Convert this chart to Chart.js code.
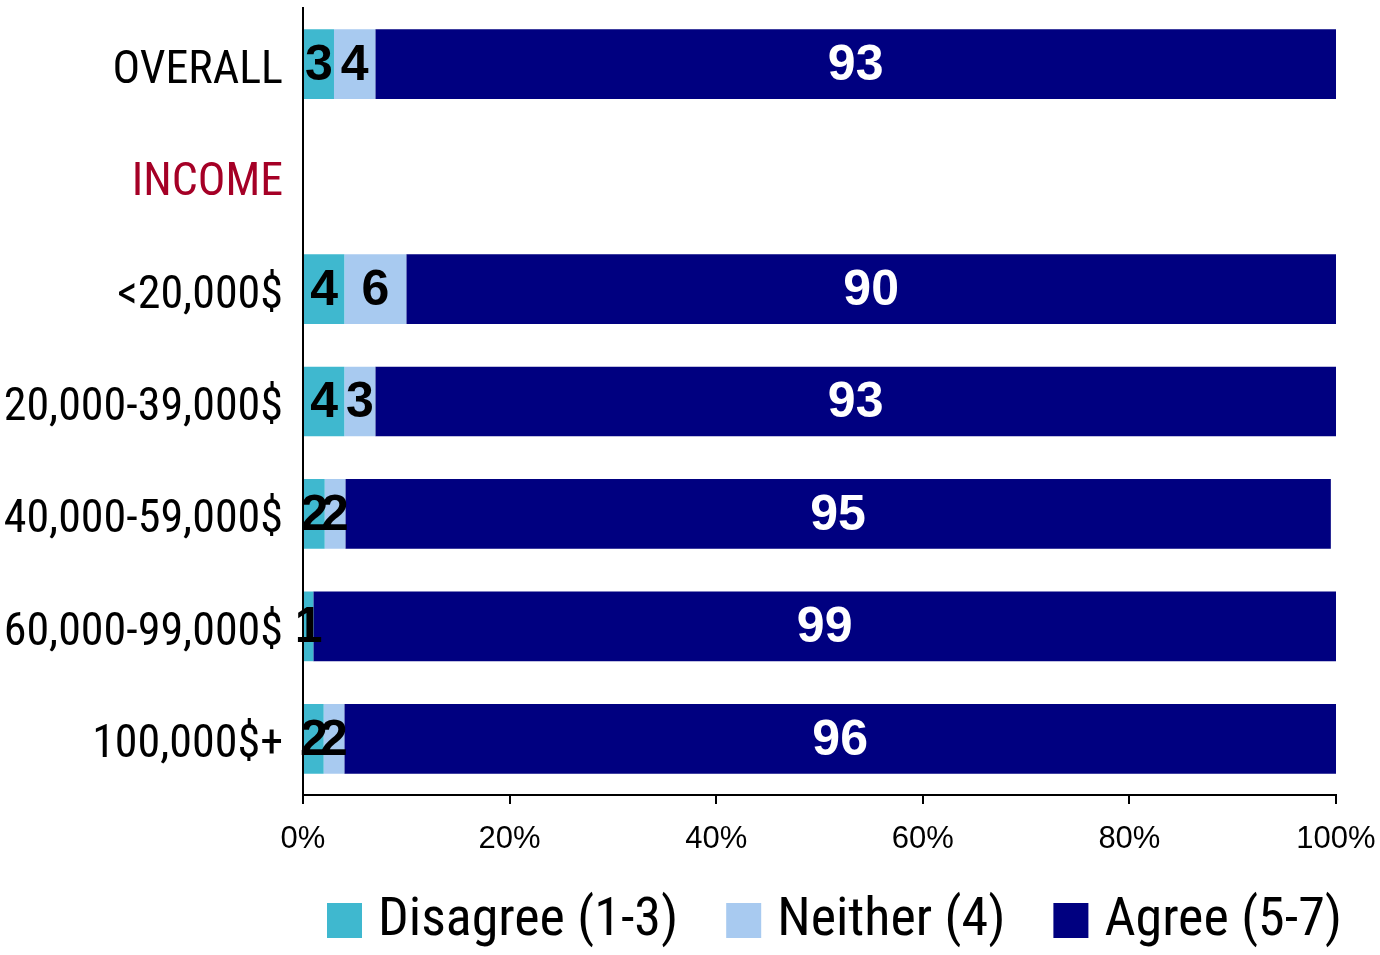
<!DOCTYPE html>
<html>
<head>
<meta charset="utf-8">
<script src="https://cdn.jsdelivr.net/npm/chart.js@4.4.0/dist/chart.umd.min.js"></script>
<style>
html,body{margin:0;padding:0;background:#fff;}
#wrap{width:1380px;height:955px;}
</style>
</head>
<body>
<div id="wrap"><canvas id="c" width="1380" height="955"></canvas></div>
<script>
const categories = ['OVERALL', 'INCOME', '<20,000$', '20,000-39,000$', '40,000-59,000$', '60,000-99,000$', '100,000$+'];
const seriesNames = ['Disagree (1-3)', 'Neither (4)', 'Agree (5-7)'];
const disagree = [3, null, 4, 4, 2.1, 1, 2];
const neither  = [4, null, 6, 3, 2.0, 0, 2];
const agree    = [93, null, 90, 93, 95.4, 99, 96];
const xTicks = [0, 20, 40, 60, 80, 100];

const colors = ['#3FB8CF', '#A8CAF0', '#000080'];
const labelColors = ['#000000', '#000000', '#FFFFFF'];
const NARROW = "'Liberation Sans Narrow', 'Arial Narrow', 'Roboto Condensed', sans-serif";
const SANS = "'Liberation Sans', Arial, sans-serif";

const barLabels = {
  id: 'barLabels',
  afterDatasetsDraw(chart) {
    const ctx = chart.ctx;
    ctx.save();
    ctx.font = 'bold 50px ' + SANS;
    ctx.textAlign = 'center';
    ctx.textBaseline = 'middle';
    chart.data.datasets.forEach((ds, di) => {
      const meta = chart.getDatasetMeta(di);
      meta.data.forEach((el, i) => {
        const v = ds.data[i];
        if (v === null || v === undefined || v <= 0) return;
        const cx = (el.x + el.base) / 2;
        ctx.fillStyle = labelColors[di];
        ctx.fillText(String(Math.round(v)), cx, el.y + 2);
      });
    });
    ctx.restore();
  }
};

const customLegend = {
  id: 'customLegend',
  afterDraw(chart) {
    const ctx = chart.ctx;
    ctx.save();
    ctx.font = '54px ' + NARROW;
    ctx.textBaseline = 'middle';
    ctx.textAlign = 'left';
    let x = 327;
    const yBox = 903, box = 35, yText = 921;
    chart.data.datasets.forEach((ds, di) => {
      ctx.fillStyle = ds.backgroundColor;
      ctx.fillRect(x, yBox, box, box);
      ctx.fillStyle = '#000';
      ctx.fillText(ds.label, x + box + 16, yText);
      x += box + 16 + ctx.measureText(ds.label).width + 48;
    });
    ctx.restore();
  }
};

new Chart(document.getElementById('c'), {
  type: 'bar',
  data: {
    labels: categories,
    datasets: [
      { label: seriesNames[0], data: disagree, backgroundColor: colors[0] },
      { label: seriesNames[1], data: neither, backgroundColor: colors[1] },
      { label: seriesNames[2], data: agree, backgroundColor: colors[2] }
    ]
  },
  options: {
    indexAxis: 'y',
    responsive: false,
    animation: false,
    devicePixelRatio: 1,
    categoryPercentage: 1,
    barPercentage: 0.62,
    layout: { padding: { top: 8, right: 44, bottom: 100, left: 0 } },
    plugins: {
      legend: { display: false },
      tooltip: { enabled: false },
      title: { display: false }
    },
    scales: {
      x: {
        stacked: true,
        min: 0, max: 100,
        afterBuildTicks(s) { s.ticks = xTicks.map(v => ({ value: v })); },
        afterFit(s) { s.height = 60; s.paddingLeft = 0; s.paddingRight = 0; },
        ticks: {
          callback: v => v + '%',
          color: '#000',
          font: { family: SANS, size: 31 },
          padding: 17,
          maxRotation: 0
        },
        grid: { display: true, drawOnChartArea: false, drawTicks: true, tickLength: 9, color: '#000', lineWidth: 2 },
        border: { display: true, color: '#000', width: 2 }
      },
      y: {
        stacked: true,
        afterFit(s) { s.width = 303; s.paddingTop = 0; s.paddingBottom = 0; },
        ticks: {
          color: ctx => (ctx.index === 1 ? '#A50026' : '#000'),
          font: { family: NARROW, size: 46 },
          padding: 20,
          labelOffset: 7,
          autoSkip: false
        },
        grid: { display: false, drawTicks: false },
        border: { display: true, color: '#000', width: 2 }
      }
    }
  },
  plugins: [barLabels, customLegend]
});
</script>
</body>
</html>
